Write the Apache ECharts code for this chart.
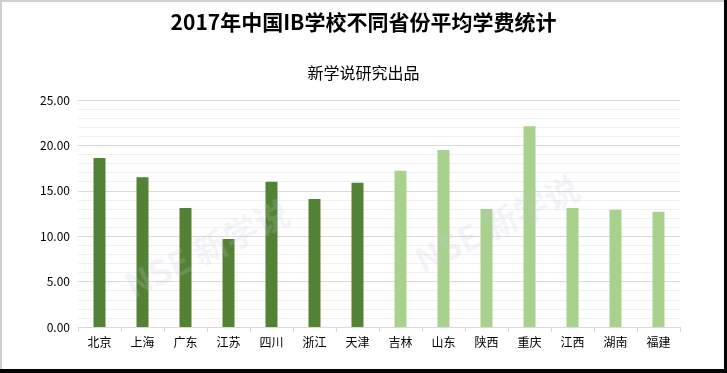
<!DOCTYPE html>
<html>
<head>
<meta charset="utf-8">
<script src="https://cdn.jsdelivr.net/npm/echarts@6/dist/echarts.min.js"></script>
<style>
html,body{margin:0;padding:0;background:#fff;}
#c{width:727px;height:373px;}
</style>
</head>
<body>
<div id="c"></div>
<script>
const categories = ['北京','上海','广东','江苏','四川','浙江','天津','吉林','山东','陕西','重庆','江西','湖南','福建'];
const fees = [18.6, 16.5, 13.1, 9.7, 16.0, 14.1, 15.9, 17.2, 19.5, 13.0, 22.1, 13.1, 12.9, 12.7];
const darkCount = 7;
const yTicks = [0, 5, 10, 15, 20, 25];
const darkColor = '#548235';
const lightColor = '#A9D18E';
const font = '"Noto Sans CJK SC", "Noto Sans", sans-serif';

const chart = echarts.init(document.getElementById('c'), null, {renderer: 'canvas'});
chart.setOption({
  animation: false,
  backgroundColor: '#fff',
  title: [
    {text: '2017年中国IB学校不同省份平均学费统计', left: 'center', top: 7,
     textStyle: {fontFamily: font, fontSize: 21, fontWeight: 'bold', color: '#000'}},
    {text: '新学说研究出品', left: 'center', top: 60,
     textStyle: {fontFamily: font, fontSize: 16, fontWeight: 'normal', color: '#000'}}
  ],
  grid: {left: 78, right: 47, top: 100, bottom: 46, containLabel: false},
  xAxis: {
    type: 'category',
    data: categories,
    boundaryGap: true,
    axisLine: {lineStyle: {color: '#d9d9d9', width: 1}},
    axisTick: {show: true, length: 5, alignWithLabel: false, lineStyle: {color: '#d9d9d9'}},
    axisLabel: {fontFamily: font, fontSize: 12, color: '#000', margin: 9, interval: 0}
  },
  yAxis: {
    type: 'value',
    min: yTicks[0],
    max: yTicks[yTicks.length - 1],
    interval: 5,
    axisLine: {show: false},
    axisTick: {show: false},
    axisLabel: {fontFamily: font, fontSize: 12, color: '#000', margin: 8,
      formatter: v => v.toFixed(2)},
    splitLine: {lineStyle: {color: '#d9d9d9', width: 1}},
    minorTick: {show: false, splitNumber: 5},
    minorSplitLine: {show: true, lineStyle: {color: '#f0f0f0', width: 1}}
  },
  series: [{
    type: 'bar',
    data: fees.map((v, i) => ({value: v, itemStyle: {color: i < darkCount ? darkColor : lightColor}})),
    barWidth: 12
  }],
  graphic: [
    {type: 'text', left: 120, top: 195, rotation: 0.45, z: 100,
     style: {text: 'NSE 新学说', fontFamily: font, fontSize: 34, fontWeight: 'bold', fill: 'rgba(190,200,215,0.2)'}},
    {type: 'text', left: 410, top: 170, rotation: 0.45, z: 100,
     style: {text: 'NSE 新学说', fontFamily: font, fontSize: 34, fontWeight: 'bold', fill: 'rgba(190,200,215,0.2)'}},
    {type: 'rect', shape: {x: 0, y: 0, width: 727, height: 2}, style: {fill: '#cfcfcf'}, z: 100},
    {type: 'rect', shape: {x: 0, y: 0, width: 2, height: 373}, style: {fill: '#cfcfcf'}, z: 100},
    {type: 'rect', shape: {x: 0, y: 369, width: 727, height: 4}, style: {fill: '#000'}, z: 100},
    {type: 'rect', shape: {x: 724, y: 0, width: 3, height: 373}, style: {fill: '#000'}, z: 100}
  ]
});
</script>
</body>
</html>
